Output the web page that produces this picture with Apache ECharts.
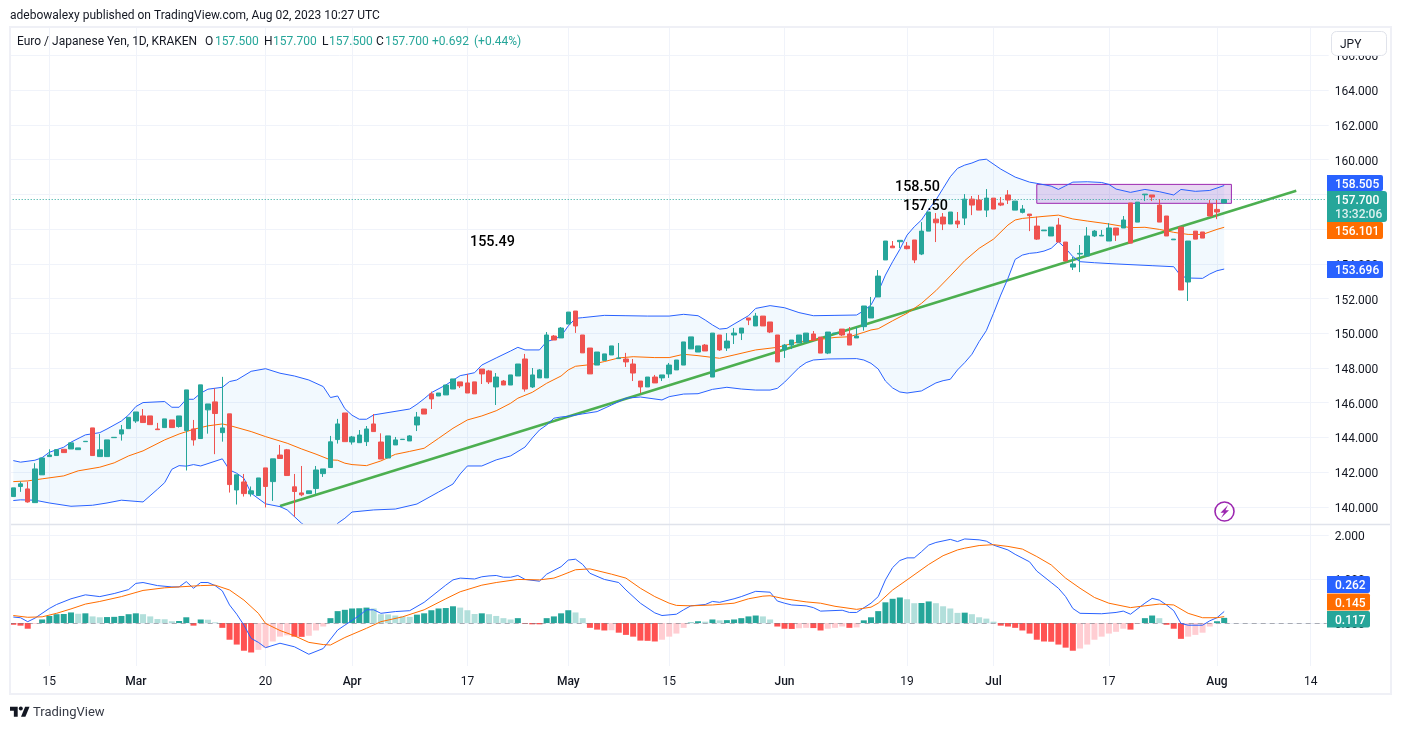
<!DOCTYPE html>
<html>
<head>
<meta charset="utf-8">
<style>html,body{margin:0;padding:0;background:#fff}#chart{width:1401px;height:730px}</style>
<script src="https://cdn.jsdelivr.net/npm/echarts@6/dist/echarts.min.js"></script>
</head>
<body>
<div id="chart"></div>
<script>
// Daily EUR/JPY candles: [open, close, low, high]
const ohlc = [
[140.60,141.10,140.60,141.10],[141.18,141.33,140.87,141.46],[141.04,140.29,140.25,141.46],[140.25,142.19,140.25,142.52],[141.85,142.82,141.85,142.82],
[142.90,142.99,142.90,143.32],[142.96,143.30,142.96,143.30],[143.32,143.13,143.13,143.32],[143.34,143.69,143.34,143.69],[143.30,143.40,143.30,143.40],
[143.76,143.78,143.76,143.78],[144.55,142.96,142.96,144.55],[142.90,143.29,142.90,144.20],[142.90,143.86,142.90,143.86],[143.99,144.01,143.99,144.01],
[144.20,144.44,143.82,144.72],[144.51,145.16,144.51,145.16],[144.95,145.47,144.84,145.47],[145.24,144.86,144.86,145.64],[145.24,144.74,144.74,145.24],
[144.49,144.45,144.45,144.84],[144.57,145.07,144.57,145.07],[145.01,144.57,144.57,145.01],[144.63,145.24,144.57,145.24],[144.40,146.74,142.10,146.74],
[144.49,143.86,143.53,145.01],[143.94,147.03,143.94,147.03],[145.59,145.93,144.22,145.93],[146.05,145.38,143.04,146.83],[144.28,144.55,143.76,147.49],
[145.36,141.29,140.83,145.36],[140.98,141.85,140.14,141.85],[141.44,140.77,140.60,141.90],[140.75,140.93,140.60,141.18],[140.66,141.67,140.66,141.67],
[142.25,141.18,139.97,142.25],[141.46,142.77,140.35,142.77],[142.99,142.79,142.79,143.57],[143.29,141.81,141.81,143.34],[141.16,140.89,139.43,141.90],
[140.81,140.70,140.62,142.36],[140.77,140.93,140.77,140.93],[141.06,142.13,140.75,142.36],[141.92,142.19,141.73,142.19],[142.27,143.75,142.27,144.09],
[143.88,144.78,143.65,145.07],[145.41,143.76,143.76,145.41],[143.74,144.03,143.59,144.09],[143.70,144.14,143.70,144.43],[143.76,144.49,143.51,144.66],
[144.78,144.34,144.34,145.35],[143.74,142.76,142.76,144.24],[142.82,144.09,142.82,144.09],[143.57,143.86,143.57,144.03],[143.88,143.90,143.88,143.90],
[143.80,144.09,143.80,144.14],[144.72,145.18,144.37,145.47],[145.64,145.35,145.35,145.64],[146.51,146.22,145.64,146.64],[146.39,146.56,146.39,146.56],
[146.45,147.02,146.45,147.02],[146.79,147.37,146.79,147.37],[147.20,146.97,146.85,147.20],[147.14,146.56,146.56,147.66],[147.20,146.51,146.51,147.20],
[147.94,147.66,147.08,147.94],[147.83,147.20,147.08,147.89],[146.91,147.48,145.87,147.71],[147.25,147.02,147.02,147.31],[147.02,147.60,147.02,147.60],
[147.54,148.23,147.54,148.23],[148.52,146.79,146.64,148.81],[146.91,147.60,146.85,148.00],[147.43,147.89,147.43,147.94],[147.43,149.90,147.43,150.07],
[149.84,149.61,149.61,149.90],[149.73,150.30,149.73,150.36],[150.53,151.22,150.53,151.22],[151.28,150.42,150.02,151.28],[149.90,148.87,148.87,149.90],
[149.15,147.66,147.66,149.15],[148.17,148.92,148.17,148.92],[148.44,148.81,148.44,148.81],[148.75,149.27,148.75,149.27],[148.54,148.58,148.52,149.44],
[148.52,148.35,148.06,148.87],[148.23,147.71,147.25,148.52],[147.25,146.91,146.56,147.25],[146.91,147.48,146.91,147.48],[147.48,147.14,147.14,147.60],
[147.43,147.60,147.25,147.60],[147.66,148.17,147.43,148.29],[147.89,148.46,147.89,148.46],[148.17,149.50,148.17,149.50],[149.10,149.79,149.10,149.79],
[148.92,149.27,148.92,149.27],[149.32,148.98,148.98,149.38],[147.48,150.01,147.48,150.01],[149.90,149.04,148.98,149.90],[149.15,149.55,148.98,150.01],
[149.90,150.01,149.38,150.30],[150.01,150.30,149.61,150.30],[150.88,150.76,150.47,150.88],[150.42,150.99,150.42,151.17],[150.99,150.42,150.42,150.99],
[150.65,150.07,150.01,150.65],[149.90,148.35,148.35,149.90],[149.04,149.32,148.58,149.38],[149.32,149.61,149.09,149.61],[149.44,149.90,149.44,149.90],
[149.50,150.01,149.50,150.01],[149.96,149.61,149.55,150.13],[149.78,148.86,148.86,149.78],[148.86,150.07,148.80,150.07],[149.99,150.01,149.99,150.01],
[150.24,149.90,149.84,150.24],[149.96,149.32,149.32,150.36],[149.73,149.84,149.73,150.36],[150.38,151.57,150.15,151.57],[150.88,151.51,150.88,152.09],
[152.09,153.29,152.09,153.64],[154.22,155.31,154.22,155.31],[155.02,154.92,154.92,155.31],[155.27,155.35,154.91,155.35],[155.02,154.87,154.83,155.25],
[155.37,154.22,154.04,155.37],[154.56,155.88,154.50,156.40],[155.88,156.98,155.88,156.98],[156.57,156.36,155.25,156.92],[156.69,156.29,155.94,156.92],
[156.29,156.98,156.29,156.98],[156.46,156.29,156.06,156.98],[156.63,157.72,156.23,158.01],[157.72,157.38,156.80,157.90],[157.67,157.09,157.09,157.96],
[157.09,157.78,156.69,158.30],[157.78,157.15,157.15,157.78],[157.49,157.38,157.32,157.84],[157.96,157.67,157.44,158.24],[157.09,157.61,157.09,157.61],
[156.96,157.15,156.90,157.38],[156.86,156.77,155.88,156.86],[156.17,155.42,155.37,156.71],[155.90,155.94,155.90,155.94],[155.60,156.11,155.60,156.11],
[156.23,155.25,155.25,156.63],[155.25,154.16,154.16,155.25],[153.81,153.99,153.64,154.39],[154.56,154.60,153.52,155.08],[154.45,155.60,154.45,156.11],
[155.60,155.88,155.54,155.94],[155.60,155.64,155.60,155.94],[155.31,156.06,155.31,156.34],[156.06,155.65,155.31,156.06],[156.06,156.52,156.06,156.75],
[157.50,155.19,155.19,157.50],[156.40,157.55,156.40,157.55],[157.97,158.01,157.61,158.01],[157.96,157.84,157.61,157.96],[157.38,156.40,156.40,157.72],
[156.75,155.60,155.60,156.75],[155.38,155.42,155.38,155.42],[156.11,152.49,152.49,156.11],[152.95,155.31,151.86,155.31],[155.88,155.42,155.42,155.88],
[155.83,155.48,155.48,155.83],[157.44,156.75,156.75,157.67],[157.13,156.98,156.57,157.67],[157.50,157.70,157.50,157.70]
];

// Bollinger bands as [bar, price]
const upperBand = [[0,142.67],[1,142.58],[3,142.69],[4,142.84],[5,143.15],[7,143.44],[8,143.73],[10,144.15],[12,144.28],[13,144.49],[15,144.95],[16,145.30],[17,145.78],[18,146.01],[21,146.07],[22,145.74],[23,145.74],[24,146.20],[25,146.20],[26,146.55],[27,146.78],[29,146.89],[30,147.22],[31,147.31],[33,147.81],[35,147.96],[37,147.70],[39,147.54],[41,147.31],[43,146.93],[44,146.30],[45,146.39],[46,145.66],[47,145.28],[48,145.05],[49,145.05],[50,145.30],[55,145.64],[56,145.91],[57,146.23],[58,146.58],[60,147.02],[62,147.56],[63,147.64],[64,147.73],[65,148.17],[67,148.58],[69,148.98],[70,149.19],[71,149.04],[73,149.04],[74,149.52],[75,149.65],[76,149.84],[77,150.42],[78,150.86],[79,150.90],[82,151.03],[85,151.01],[88,150.99],[91,150.99],[93,151.09],[95,151.01],[96,150.76],[97,150.48],[98,150.24],[99,150.28],[100,150.53],[102,151.01],[103,151.43],[105,151.59],[107,151.47],[109,151.19],[111,151.01],[114,151.03],[117,151.05],[118,151.30],[119,151.63],[120,152.39],[121,153.35],[122,154.12],[123,154.83],[124,155.65],[125,156.13],[126,156.52],[127,157.13],[128,157.67],[129,158.34],[130,159.01],[131,159.49],[132,159.68],[133,159.80],[134,159.97],[135,160.02],[137,159.45],[138,159.22],[139,158.99],[141,158.70],[142,158.63],[144,158.47],[145,158.28],[146,158.49],[147,158.70],[149,158.72],[151,158.68],[152,158.57],[153,158.30],[155,158.11],[157,158.28],[159,158.15],[161,157.96],[162,158.28],[164,158.17],[166,158.22],[167,158.36],[168,158.505]];
const midBand = [[0,141.46],[2,141.50],[4,141.62],[7,141.79],[9,142.08],[12,142.29],[14,142.54],[16,142.94],[18,143.23],[21,143.86],[23,144.20],[25,144.47],[27,144.67],[29,144.78],[30,144.69],[33,144.34],[35,144.05],[38,143.67],[40,143.34],[42,143.04],[44,142.71],[45,142.69],[46,142.52],[47,142.44],[49,142.38],[51,142.65],[53,143.03],[55,143.20],[57,143.38],[59,143.95],[61,144.53],[63,145.01],[65,145.24],[67,145.54],[69,145.97],[70,146.26],[72,146.60],[74,147.12],[76,147.54],[77,147.89],[78,148.10],[80,148.19],[82,148.37],[84,148.58],[86,148.65],[89,148.60],[91,148.60],[93,148.79],[95,148.71],[97,148.61],[98,148.56],[100,148.75],[103,149.04],[106,149.19],[109,149.51],[112,149.65],[114,149.76],[116,149.80],[118,150.05],[119,150.19],[120,150.26],[122,150.72],[124,151.15],[126,151.72],[128,152.45],[130,153.30],[132,154.18],[134,154.89],[136,155.42],[138,156.23],[139,156.52],[140,156.61],[142,156.69],[143,156.73],[145,156.80],[147,156.58],[149,156.46],[152,156.29],[155,156.08],[157,156.10],[159,155.98],[161,155.81],[163,155.69],[165,155.69],[167,155.98],[168,156.101]];
const lowerBand = [[0,140.37],[1,140.41],[3,140.39],[5,140.23],[8,140.04],[11,140.10],[13,140.23],[15,140.39],[18,140.29],[20,141.02],[21,141.40],[22,142.17],[23,142.38],[24,142.35],[25,142.44],[26,142.36],[29,142.77],[30,142.13],[31,141.94],[32,141.65],[33,140.79],[35,140.18],[37,140.02],[38,139.83],[40,139.06],[42,138.55],[44,138.40],[45,139.06],[46,139.35],[47,139.71],[50,139.83],[53,139.88],[56,140.17],[59,140.86],[61,141.32],[62,141.90],[63,142.36],[65,142.36],[67,142.71],[69,142.94],[71,143.45],[72,143.97],[73,144.43],[74,144.72],[75,145.11],[76,145.18],[77,145.22],[79,145.36],[81,145.49],[83,145.87],[85,146.26],[87,146.33],[90,146.16],[91,146.35],[93,146.50],[95,146.52],[97,146.77],[99,146.89],[101,146.79],[103,146.73],[105,146.73],[106,146.83],[107,147.18],[108,147.60],[109,148.02],[110,148.31],[111,148.46],[113,148.52],[117,148.54],[118,148.46],[119,148.27],[120,147.94],[121,147.25],[122,146.85],[123,146.62],[124,146.56],[126,146.68],[128,147.14],[129,147.27],[130,147.35],[131,147.89],[132,148.31],[133,148.79],[134,149.52],[135,150.15],[136,151.15],[137,152.20],[138,153.16],[139,154.25],[140,154.50],[141,154.60],[142,154.64],[143,154.73],[144,154.89],[145,155.27],[146,154.89],[147,154.41],[148,154.12],[150,154.06],[153,153.99],[158,153.89],[161,153.83],[162,153.29],[163,153.18],[165,153.16],[166,153.41],[167,153.60],[168,153.696]];

// Drawn objects on the price pane
const trendLine = [[37,140.06],[178,158.20]];
const resistanceBox = [142,158.57,169,157.48];
const lastPrice = 157.7;

// MACD histogram, one value per bar
const macdHist = [
-.04,-.06,-.13,-.02,.08,.16,.20,.205,.24,.21,
.22,.15,.13,.135,.14,.16,.20,.22,.20,.15,
.09,.085,.04,.045,.13,-.06,.08,.075,.015,-.11,
-.38,-.49,-.63,-.67,-.61,-.56,-.42,-.31,-.28,-.31,
-.315,-.29,-.17,-.08,.11,.27,.30,.33,.335,.35,
.33,.20,.195,.17,.15,.14,.19,.22,.29,.33,
.34,.38,.35,.29,.205,.22,.20,.16,.11,.08,
.11,-.015,-.03,-.03,.11,.15,.22,.29,.24,.11,
-.11,-.15,-.17,-.165,-.22,-.27,-.31,-.40,-.405,-.42,
-.38,-.31,-.24,-.11,.01,.04,.03,.08,.06,.065,
.08,.11,.15,.17,.15,.08,-.08,-.13,-.135,-.12,
-.11,-.115,-.17,-.13,-.11,-.08,-.11,-.10,.06,.13,
.27,.47,.55,.58,.54,.45,.455,.49,.45,.38,
.33,.23,.235,.20,.13,.10,.03,-.06,-.08,-.11,
-.17,-.24,-.38,-.42,-.425,-.49,-.56,-.63,-.58,-.49,
-.38,-.31,-.24,-.20,-.13,-.15,-.015,.11,.17,.11,
-.04,-.13,-.36,-.31,-.27,-.22,-.08,.04,.117];

const macdLine = [[0,.136],[1,.12],[2,.03],[3,.11],[5,.33],[6,.42],[8,.55],[10,.64],[12,.60],[14,.67],[16,.76],[17,.90],[18,.92],[20,.85],[22,.82],[23,.82],[24,.94],[25,.79],[26,.92],[27,.92],[28,.85],[29,.73],[30,.41],[31,.20],[32,-.05],[33,-.35],[34,-.44],[35,-.56],[37,-.46],[39,-.54],[41,-.71],[43,-.58],[45,-.16],[46,-.05],[48,.17],[49,.30],[50,.30],[51,.22],[53,.26],[55,.28],[57,.47],[60,.86],[61,.98],[62,1.02],[64,1.00],[65,1.05],[66,1.07],[67,1.08],[68,1.04],[69,1.04],[70,1.08],[71,.99],[73,.95],[74,1.11],[76,1.28],[77,1.43],[78,1.45],[79,1.33],[80,1.13],[82,.99],[84,.92],[85,.75],[87,.45],[89,.23],[90,.17],[92,.20],[93,.30],[94,.39],[96,.42],[97,.49],[98,.47],[100,.55],[101,.60],[103,.72],[105,.70],[106,.50],[107,.45],[108,.41],[110,.39],[111,.35],[112,.27],[115,.29],[116,.24],[117,.24],[119,.45],[120,.60],[121,.98],[122,1.26],[123,1.42],[124,1.48],[125,1.48],[126,1.62],[127,1.77],[128,1.83],[130,1.90],[131,1.85],[132,1.91],[134,1.89],[135,1.86],[136,1.77],[138,1.66],[139,1.56],[141,1.39],[142,1.18],[144,.92],[145,.79],[146,.60],[147,.33],[148,.22],[151,.21],[153,.24],[154,.27],[155,.20],[157,.45],[158,.56],[159,.52],[160,.41],[161,.28],[162,-.01],[163,-.05],[165,-.05],[166,.05],[167,.12],[168,.262]];
const signalLine = [[0,.17],[2,.13],[4,.14],[6,.22],[8,.32],[10,.43],[12,.49],[15,.60],[18,.74],[21,.80],[23,.82],[26,.85],[28,.86],[30,.75],[32,.52],[34,.22],[35,-.01],[37,-.17],[39,-.29],[41,-.44],[43,-.49],[44,-.50],[46,-.33],[49,-.12],[51,.03],[54,.14],[57,.30],[60,.55],[62,.71],[65,.86],[67,.92],[70,.99],[73,.98],[75,1.02],[76,1.08],[78,1.21],[80,1.23],[83,1.11],[85,1.02],[87,.79],[89,.60],[91,.45],[92,.40],[94,.39],[97,.41],[100,.45],[102,.55],[104,.61],[105,.62],[107,.55],[110,.48],[112,.45],[114,.38],[117,.31],[119,.36],[120,.45],[122,.75],[124,.98],[127,1.33],[129,1.53],[131,1.66],[132,1.70],[134,1.76],[136,1.78],[138,1.74],[140,1.68],[142,1.51],[144,1.32],[146,1.02],[148,.79],[150,.58],[152,.45],[155,.35],[157,.39],[159,.43],[161,.41],[163,.22],[165,.12],[167,.12],[168,.145]];

// Time axis: 183 bar slots, of which the last few are empty future space
const slotCount = 183;
const tickSlots = [5,17,35,47,63,77,91,107,124,136,152,167,180];
const tickLabels = ['15','Mar','20','Apr','17','May','15','Jun','19','Jul','17','Aug','14'];
const monthNames = ['Mar','Apr','May','Jun','Jul','Aug'];
const priceTicks = [140,142,144,146,148,150,152,154,156,158,160,162,164,166];
const oscTicks = [0,1,2];

const FONT = 'Roboto, "Liberation Sans", sans-serif';
const INK = '#131722', GRID = '#f0f3fa', UP = '#26a69a', DOWN = '#ef5350', BLUE = '#2962ff', ORANGE = '#ff6d00', PURPLE = '#9c27b0';

const categories = Array.from({length: slotCount}, (_, i) => {
  const k = tickSlots.indexOf(i);
  return k >= 0 ? tickLabels[k] : '';
});
const isTick = (i, v) => v !== '';

function histColor(i) {
  const v = macdHist[i], prev = i > 0 ? macdHist[i - 1] : null;
  const rising = prev !== null && v > prev;
  if (v >= 0) return rising ? '#26a69a' : '#b2dfdb';
  return rising ? '#ffcdd2' : '#ff5252';
}

const left = 9.7, plotWidth = 1319;
const xAxisBase = {
  type: 'category', data: categories, boundaryGap: true,
  axisLine: {show: false},
  axisTick: {show: false, interval: isTick, alignWithLabel: true},
  splitLine: {show: true, interval: isTick, alignWithLabel: true, lineStyle: {color: GRID, width: 1}}
};
const yAxisBase = {
  type: 'value', position: 'right', scale: true,
  axisLine: {show: false},
  splitLine: {show: true, lineStyle: {color: GRID, width: 1}}
};
const lineBase = {type: 'line', showSymbol: false, symbol: 'none', animation: false, silent: true};

// A horizontal rule across a whole pane at one value of its price scale
const levelLine = (axisIndex, level, stroke, dash, z) => ({
  type: 'custom', xAxisIndex: axisIndex, yAxisIndex: axisIndex, z, silent: true,
  data: [[0, level]],
  renderItem: (params, api) => {
    const y = Math.round(api.coord([0, api.value(1)])[1]) + 0.5;
    const cs = params.coordSys;
    return {
      type: 'line',
      shape: {x1: cs.x, y1: y, x2: cs.x + cs.width - 2, y2: y},
      style: {stroke, lineWidth: 1, lineDash: dash}
    };
  }
});

// Header and axis tags
const T = (x, y, text, extra) => ({
  type: 'text', x, y: y + 1.2, z: 100,
  style: Object.assign({text, fill: INK, font: '12px ' + FONT, textVerticalAlign: 'middle'}, extra || {})
});
const R = (x, y, w, h, fill, r, extra) => ({
  type: 'rect', z: 99, shape: {x, y, width: w, height: h, r: r || 0},
  style: Object.assign({fill}, extra || {})
});
const TAG = (x, y, w, h, fill, label) => [
  R(x, y, w, h, fill, [0, 2, 2, 0]),
  T(x + 8, y + h / 2 + 0.5, label, {fill: '#fff', font: '500 12px ' + FONT})
];
const logoPoly = (pts) => ({
  type: 'polygon', z: 100,
  shape: {points: pts.map(p => [10 + p[0] * 0.55, 704.6 + p[1] * 0.55])},
  style: {fill: INK}
});

const graphics = [
  T(10, 15, 'adebowalexy published on TradingView.com, Aug 02, 2023 10:27 UTC'),
  R(10, 27, 1381, 667, 'none', 0, {stroke: '#eff0f6', lineWidth: 2}),
  {type: 'line', z: 60, shape: {x1: 10, y1: 524.5, x2: 1390, y2: 524.5}, style: {stroke: '#e0e3eb', lineWidth: 1.5}},
  T(17, 41, 'Euro / Japanese Yen, 1D, KRAKEN'),
  T(205, 41, 'O'), T(215, 41, '157.500', {fill: UP}),
  T(264, 41, 'H'), T(273, 41, '157.700', {fill: UP}),
  T(322, 41, 'L'), T(329, 41, '157.500', {fill: UP}),
  T(376, 41, 'C'), T(385, 41, '157.700', {fill: UP}),
  T(432, 41, '+0.692', {fill: UP}), T(474, 41, '(+0.44%)', {fill: UP}),
  R(1331.5, 31.5, 55, 24, '#fff', 5, {stroke: '#e0e3eb', lineWidth: 1}),
  T(1340, 43.5, 'JPY'),
  T(895, 186, '158.50', {fill: '#000', font: '500 14.4px ' + FONT}),
  T(903, 205, '157.50', {fill: '#000', font: '500 14.4px ' + FONT}),
  T(470, 241, '155.49', {fill: '#000', font: '500 14.4px ' + FONT}),
  ...TAG(1327, 175, 56, 16, BLUE, '158.505'),
  R(1327, 191, 60, 31, UP, [0, 3, 3, 0]),
  T(1335, 199.5, '157.700', {fill: '#fff', font: '500 12px ' + FONT}),
  T(1335, 213.5, '13:32:06', {fill: 'rgba(255,255,255,0.85)', font: '500 12px ' + FONT}),
  ...TAG(1327, 222, 56, 17, ORANGE, '156.101'),
  ...TAG(1327, 261, 56, 17, BLUE, '153.696'),
  ...TAG(1327, 576, 43, 17, BLUE, '0.262'),
  ...TAG(1327, 593.5, 43, 17, ORANGE, '0.145'),
  ...TAG(1327, 611, 43, 16.5, UP, '0.117'),
  // Alert marker
  {type: 'circle', z: 100, shape: {cx: 1224.5, cy: 511.5, r: 9.5}, style: {fill: '#fff', stroke: PURPLE, lineWidth: 1.6}},
  {type: 'polygon', z: 101, shape: {points: [[1228,505],[1220.5,512.8],[1224,512.8],[1221,518],[1229,510.2],[1225.5,510.2]]}, style: {fill: PURPLE}},
  // TradingView wordmark
  logoPoly([[0,4],[14,4],[14,22],[7,22],[7,11],[0,11]]),
  logoPoly([[20,22],[27.5,4],[35.5,4],[28,22]]),
  {type: 'circle', z: 101, shape: {cx: 20.8, cy: 708.6, r: 2}, style: {fill: INK}},
  T(33, 712, 'TradingView', {fill: '#363a45', font: '13px ' + FONT})
];

// Tick text sits a touch below its gridline: a short line box hung from the tick
const yLabel = (ticks) => ({
  show: true, customValues: ticks, margin: 6, verticalAlign: 'top', lineHeight: 4,
  fontFamily: FONT, fontSize: 12, color: INK, formatter: v => v.toFixed(3)
});

const chart = echarts.init(document.getElementById('chart'), null, {renderer: 'canvas'});
chart.setOption({
  animation: false,
  backgroundColor: '#ffffff',
  textStyle: {fontFamily: FONT},
  grid: [
    {left, width: plotWidth, top: 27, height: 497},
    {left, width: plotWidth, top: 525, height: 141}
  ],
  xAxis: [
    Object.assign({}, xAxisBase, {gridIndex: 0, axisLabel: {show: false}}),
    Object.assign({}, xAxisBase, {
      gridIndex: 1,
      axisLabel: {
        show: true, interval: isTick, alignWithLabel: true, hideOverlap: false, margin: 10,
        fontFamily: FONT, fontSize: 12, color: INK,
        formatter: v => v === '' ? '' : (monthNames.includes(v) ? '{m|' + v + '}' : v),
        rich: {m: {fontFamily: FONT, fontSize: 12, fontWeight: 500, color: INK}}
      }
    })
  ],
  yAxis: [
    Object.assign({}, yAxisBase, {
      gridIndex: 0, min: 139.02, max: 167.63,
      axisTick: {show: false, customValues: priceTicks},
      axisLabel: yLabel(priceTicks)
    }),
    Object.assign({}, yAxisBase, {
      gridIndex: 1, min: -0.977, max: 2.227,
      axisTick: {show: false, customValues: oscTicks},
      axisLabel: yLabel(oscTicks)
    })
  ],
  series: [
    {
      // Shaded Bollinger channel built from the two band lines
      type: 'custom', xAxisIndex: 0, yAxisIndex: 0, clip: true, z: 1, silent: true,
      data: [[0, 0]],
      renderItem: (params, api) => ({
        type: 'polygon',
        shape: {points: upperBand.concat(lowerBand.slice().reverse()).map(p => api.coord(p))},
        style: {fill: 'rgba(33,150,243,0.06)'}
      })
    },
    {
      type: 'custom', xAxisIndex: 0, yAxisIndex: 0, z: 2, silent: true,
      data: [resistanceBox],
      renderItem: (params, api) => {
        const a = api.coord([api.value(0), api.value(1)]);
        const b = api.coord([api.value(2), api.value(3)]);
        return {
          type: 'rect',
          shape: {x: a[0], y: a[1], width: b[0] - a[0], height: b[1] - a[1]},
          style: {fill: 'rgba(142,60,190,0.2)', stroke: PURPLE, lineWidth: 1}
        };
      }
    },
    Object.assign({}, lineBase, {xAxisIndex: 0, yAxisIndex: 0, z: 3, data: trendLine, lineStyle: {color: '#4caf50', width: 2.5}}),
    Object.assign({}, lineBase, {xAxisIndex: 0, yAxisIndex: 0, z: 4, data: upperBand, lineStyle: {color: BLUE, width: 1}}),
    Object.assign({}, lineBase, {xAxisIndex: 0, yAxisIndex: 0, z: 4, data: lowerBand, lineStyle: {color: BLUE, width: 1}}),
    Object.assign({}, lineBase, {xAxisIndex: 0, yAxisIndex: 0, z: 4, data: midBand, lineStyle: {color: ORANGE, width: 1}}),
    levelLine(0, lastPrice, UP, [1, 2], 4),
    {
      type: 'candlestick', xAxisIndex: 0, yAxisIndex: 0, z: 5, silent: true,
      barWidth: 5, data: ohlc,
      itemStyle: {color: UP, color0: DOWN, borderColor: UP, borderColor0: DOWN, borderWidth: 1}
    },
    {
      type: 'bar', xAxisIndex: 1, yAxisIndex: 1, z: 2, silent: true, barWidth: 6,
      data: macdHist.map((v, i) => ({value: v, itemStyle: {color: histColor(i)}}))
    },
    levelLine(1, 0, 'rgba(120,123,134,0.6)', [5, 4], 3),
    Object.assign({}, lineBase, {xAxisIndex: 1, yAxisIndex: 1, z: 4, data: macdLine, lineStyle: {color: BLUE, width: 1}}),
    Object.assign({}, lineBase, {xAxisIndex: 1, yAxisIndex: 1, z: 5, data: signalLine, lineStyle: {color: ORANGE, width: 1}})
  ],
  graphic: {elements: graphics}
});
</script>
</body>
</html>
